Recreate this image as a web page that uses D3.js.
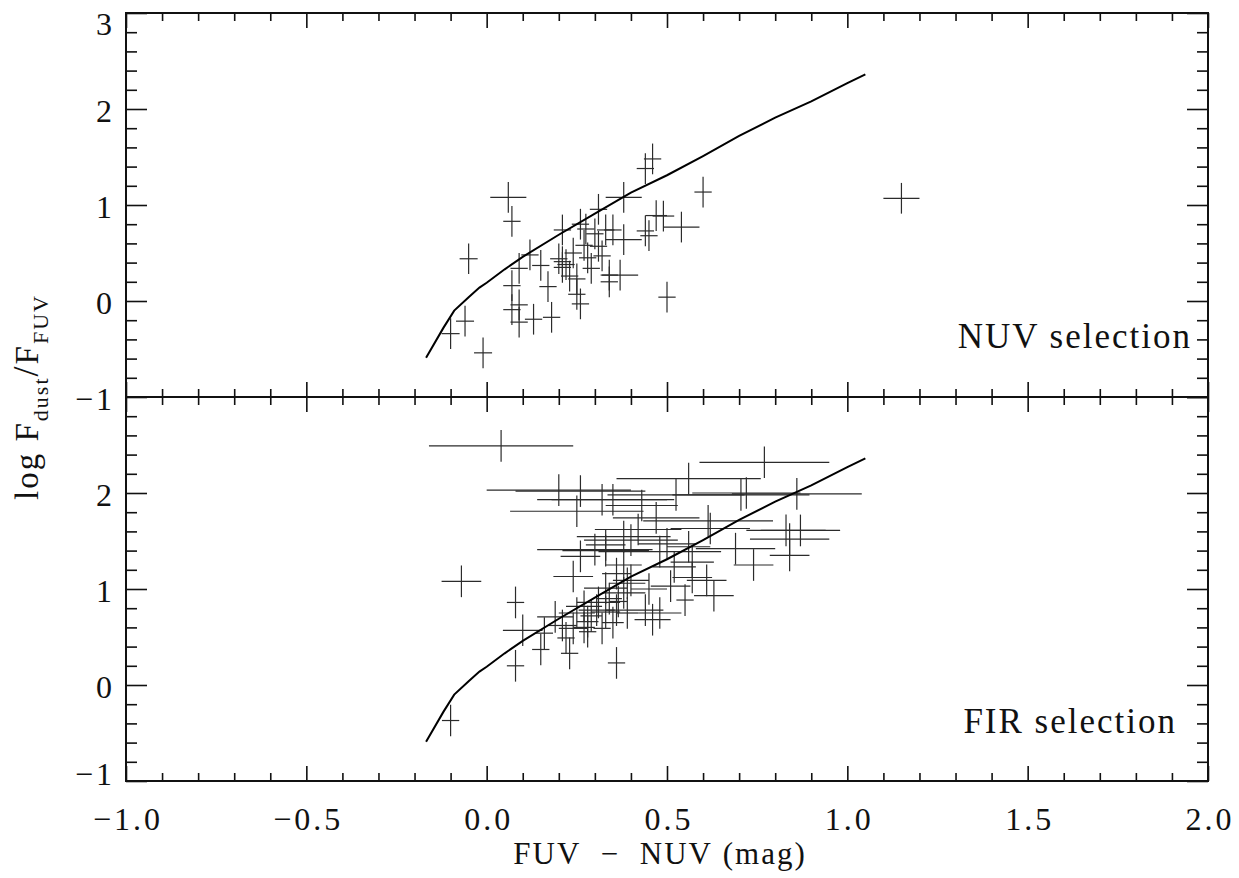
<!DOCTYPE html>
<html>
<head>
<meta charset="utf-8">
<script src="https://cdn.jsdelivr.net/npm/d3@7"></script>
<style>
  html, body { margin: 0; padding: 0; background: #fff; }
  svg { display: block; }
  text { font-family: "Liberation Serif", "DejaVu Serif", serif; fill: #111; }
</style>
</head>
<body>
<div id="chart"></div>
<script>
// model curve (same in both panels)
const curveX = [-0.168, -0.12, -0.09, -0.05, -0.02, 0.0, 0.05, 0.1, 0.2, 0.3, 0.4, 0.5, 0.6, 0.7, 0.8, 0.9, 1.0, 1.05];
const curveY = [-0.59, -0.28, -0.10, 0.04, 0.14, 0.19, 0.33, 0.46, 0.69, 0.91, 1.13, 1.31, 1.51, 1.72, 1.91, 2.08, 2.27, 2.36];

// NUV selection (top panel)
const nuvX  = [0.06, 0.07, -0.05, -0.10, -0.06, -0.01, 0.07, 0.07, 0.09, 0.09, 0.09, 0.12, 0.13, 0.15, 0.17, 0.18,
               0.20, 0.21, 0.22, 0.21, 0.21, 0.26, 0.275, 0.30, 0.31, 0.33, 0.35, 0.38, 0.31, 0.38, 0.28, 0.29,
               0.23, 0.25, 0.25, 0.26, 0.34, 0.34, 0.37, 0.44, 0.47, 0.49, 0.45, 0.54, 0.60, 0.50, 0.44, 0.46,
               1.15, 0.27, 0.32, 0.24];
const nuvY  = [1.08, 0.83, 0.44, -0.34, -0.21, -0.54, 0.16, -0.09, -0.04, -0.22, 0.34, 0.48, -0.19, 0.37, 0.15, -0.17,
               0.44, 0.41, 0.38, 0.35, 0.74, 0.80, 0.75, 0.70, 0.57, 0.74, 0.74, 1.08, 0.955, 0.64, 0.45, 0.34,
               0.26, 0.23, 0.07, -0.03, 0.27, 0.20, 0.27, 0.73, 0.89, 0.885, 0.68, 0.77, 1.135, 0.04, 1.38, 1.48,
               1.07, 0.58, 0.47, 0.50];
const nuvEx = [0.05, 0.024, 0.025, 0.025, 0.025, 0.025, 0.024, 0.024, 0.024, 0.024, 0.024, 0.024, 0.024, 0.024, 0.024, 0.024,
               0.024, 0.024, 0.024, 0.024, 0.024, 0.024, 0.024, 0.024, 0.024, 0.024, 0.024, 0.05, 0.024, 0.05, 0.024, 0.024,
               0.024, 0.024, 0.024, 0.024, 0.024, 0.024, 0.05, 0.024, 0.03, 0.03, 0.024, 0.05, 0.024, 0.024, 0.024, 0.024,
               0.05, 0.024, 0.024, 0.024];
const nuvEy = 0.16;

// FIR selection (bottom panel)
const firX  = [0.04, 0.20, 0.26, 0.25, 0.32, 0.35, 0.43, 0.47, 0.525, 0.56, 0.77, 0.705, 0.72, 0.86, 0.614, 0.62,
               0.83, 0.87, 0.84, 0.84, 0.74, 0.69, 0.56, 0.57, 0.48, 0.40, 0.38, 0.33, 0.30, 0.26, 0.24, -0.07,
               0.08, 0.10, 0.08, -0.10, 0.15, 0.23, 0.36, 0.51, 0.55, 0.57, 0.61, 0.63, 0.44, 0.46, 0.48, 0.16,
               0.19, 0.22, 0.25, 0.27, 0.28, 0.28, 0.305, 0.32, 0.33, 0.34, 0.35, 0.36, 0.365, 0.38, 0.39, 0.39,
               0.21, 0.24, 0.27, 0.29, 0.31, 0.33, 0.36, 0.38, 0.40, 0.45, 0.52, 0.50, 0.42, 0.33];
const firY  = [2.49, 2.03, 2.02, 1.81, 1.93, 1.93, 1.87, 1.74, 1.98, 2.15, 2.32, 1.98, 2.00, 1.99, 1.71, 1.63,
               1.61, 1.61, 1.52, 1.35, 1.25, 1.42, 1.44, 1.28, 1.39, 1.51, 1.545, 1.46, 1.41, 1.34, 1.13, 1.08,
               0.86, 0.57, 0.20, -0.37, 0.37, 0.33, 0.23, 1.03, 0.885, 1.12, 1.09, 0.93, 0.78, 0.68, 0.75, 0.54,
               0.71, 0.49, 0.75, 0.82, 0.66, 0.555, 0.78, 0.59, 0.76, 0.90, 0.65, 0.78, 0.87, 0.96, 0.75, 1.06,
               0.62, 0.59, 0.60, 0.72, 0.86, 1.01, 1.16, 1.25, 1.09, 1.00, 1.23, 1.47, 1.62, 1.40];
const firEx = [0.20, 0.20, 0.18, 0.185, 0.18, 0.17, 0.10, 0.12, 0.19, 0.20, 0.18, 0.19, 0.15, 0.18, 0.18, 0.11,
               0.11, 0.11, 0.11, 0.055, 0.055, 0.11, 0.06, 0.06, 0.17, 0.13, 0.13, 0.055, 0.16, 0.055, 0.055, 0.055,
               0.024, 0.055, 0.024, 0.024, 0.024, 0.024, 0.024, 0.055, 0.024, 0.055, 0.055, 0.055, 0.05, 0.05, 0.06, 0.024,
               0.05, 0.024, 0.05, 0.05, 0.03, 0.024, 0.05, 0.024, 0.04, 0.035, 0.03, 0.03, 0.024, 0.06, 0.03, 0.05,
               0.04, 0.04, 0.03, 0.03, 0.06, 0.06, 0.04, 0.05, 0.05, 0.05, 0.06, 0.08, 0.12, 0.12];
const firEy = 0.165;

const xMajorTicks = [-1.0, -0.5, 0.0, 0.5, 1.0, 1.5, 2.0];
const yMajorTicks = [-1, 0, 1, 2, 3];
const xMinorTicks = d3.range(-10, 21).filter(i => i % 5 !== 0).map(i => i / 10);
const yMinorTicks = d3.range(-5, 16).filter(i => i % 5 !== 0).map(i => i / 5);

const W = 1239, H = 878;
const left = 126, right = 1208;
const topY = 13, midY = 397, botY = 781;

const svg = d3.select("#chart").append("svg").attr("width", W).attr("height", H);

const x = d3.scaleLinear().domain([-1, 2]).range([left, right]);

const panels = [
  { name: "NUV selection", xs: nuvX, ys: nuvY, ex: nuvEx, ey: nuvEy, y0: topY, y1: midY, labelX: 1192, labelY: 348 },
  { name: "FIR selection", xs: firX, ys: firY, ex: firEx, ey: firEy, y0: midY, y1: botY, labelX: 1177, labelY: 733, bottom: true }
];

const line = d3.line();

panels.forEach((p) => {
  const y = d3.scaleLinear().domain([-1, 3]).range([p.y1, p.y0]);
  const g = svg.append("g");

  // ticks
  const addAxis = (axis, tx, ty) => {
    const a = g.append("g").attr("transform", `translate(${tx},${ty})`).call(axis);
    a.select(".domain").remove();
    a.selectAll("line").attr("stroke", "#111").attr("stroke-width", 1.6);
    return a;
  };

  addAxis(d3.axisBottom(x).tickValues(xMajorTicks).tickSize(-15).tickFormat(""), 0, p.y1);
  addAxis(d3.axisBottom(x).tickValues(xMinorTicks).tickSize(-8).tickFormat(""), 0, p.y1);
  addAxis(d3.axisTop(x).tickValues(xMajorTicks).tickSize(-15).tickFormat(""), 0, p.y0);
  addAxis(d3.axisTop(x).tickValues(xMinorTicks).tickSize(-8).tickFormat(""), 0, p.y0);

  const yl = addAxis(d3.axisLeft(y).tickValues(p.bottom ? yMajorTicks.slice(0, 4) : yMajorTicks)
    .tickSize(-21).tickPadding(11).tickFormat(d3.format("d")), left, 0);
  yl.selectAll("text")
    .attr("font-size", 32).attr("letter-spacing", "3px")
    .attr("dy", d => (!p.bottom && d === 3) ? "0.66em" : (p.bottom && d === -1) ? "0.12em" : "0.38em");
  addAxis(d3.axisLeft(y).tickValues(yMinorTicks).tickSize(-11).tickFormat(""), left, 0);
  addAxis(d3.axisRight(y).tickValues(yMajorTicks).tickSize(-21).tickFormat(""), right, 0);
  addAxis(d3.axisRight(y).tickValues(yMinorTicks).tickSize(-11).tickFormat(""), right, 0);

  if (p.bottom) {
    const xb = addAxis(d3.axisBottom(x).tickValues(xMajorTicks).tickSize(-15).tickPadding(26)
      .tickFormat(d3.format(".1f")), 0, p.y1);
    xb.selectAll("line").remove();
    xb.selectAll("text").attr("font-size", 32).attr("letter-spacing", "3px").attr("dx", "1.5px");
  }

  // frame
  g.append("rect")
    .attr("x", left).attr("y", p.y0)
    .attr("width", right - left).attr("height", p.y1 - p.y0)
    .attr("fill", "none").attr("stroke", "#111").attr("stroke-width", 2);

  // crosses with error bars
  const pts = p.xs.map((v, i) => ({ x: v, y: p.ys[i], ex: p.ex[i], ey: p.ey }));
  const cg = g.append("g").attr("stroke", "#2b2b2b").attr("stroke-width", 1.2);
  cg.selectAll("line.h").data(pts).join("line").attr("class", "h")
    .attr("x1", d => x(d.x - d.ex)).attr("x2", d => x(d.x + d.ex))
    .attr("y1", d => y(d.y)).attr("y2", d => y(d.y));
  cg.selectAll("line.v").data(pts).join("line").attr("class", "v")
    .attr("x1", d => x(d.x)).attr("x2", d => x(d.x))
    .attr("y1", d => y(d.y - d.ey)).attr("y2", d => y(d.y + d.ey));

  // model curve
  g.append("path")
    .attr("d", line(curveX.map((v, i) => [x(v), y(curveY[i])])))
    .attr("fill", "none").attr("stroke", "#000").attr("stroke-width", 2);

  g.append("text")
    .attr("x", p.labelX).attr("y", p.labelY)
    .attr("text-anchor", "end")
    .attr("font-size", 35).attr("letter-spacing", "2px")
    .text(p.name);
});

// axis titles
svg.append("text")
  .attr("x", 660).attr("y", 864)
  .attr("text-anchor", "middle")
  .attr("font-size", 31).attr("letter-spacing", "2px")
  .text("FUV\u00a0\u00a0\u2212\u00a0\u00a0NUV\u00a0(mag)");

const yt = svg.append("text")
  .attr("transform", "translate(38,397) rotate(-90)")
  .attr("text-anchor", "middle")
  .attr("font-size", 33).attr("letter-spacing", "2px");
yt.append("tspan").text("log\u00a0F");
yt.append("tspan").attr("dy", 10).attr("font-size", 22).text("dust");
yt.append("tspan").attr("dy", -10).attr("font-size", 36).text("/");
yt.append("tspan").text("F");
yt.append("tspan").attr("dy", 10).attr("font-size", 22).text("FUV");
</script>
</body>
</html>
